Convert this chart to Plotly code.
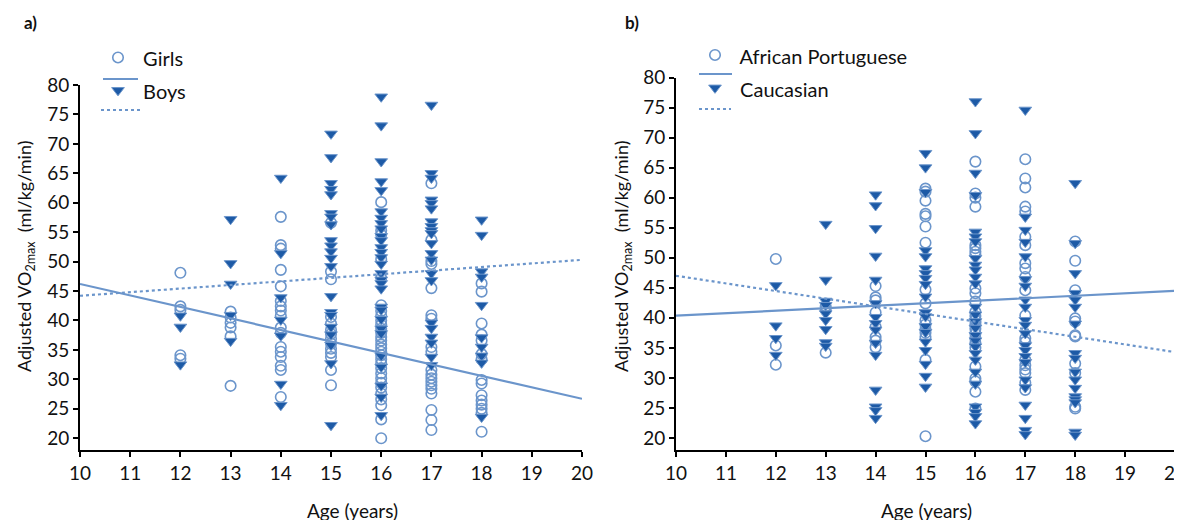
import plotly.graph_objects as go

# ---------------- data ----------------
ages = [12, 13, 14, 15, 16, 17, 18]

girls = {
    12: [48.1, 42.4, 41.8, 34.1, 33.5],
    13: [41.5, 40.5, 39.6, 38.8, 37.3, 28.9],
    14: [57.6, 52.8, 52.2, 48.6, 45.8, 43.3, 42.4, 41.7, 40.8, 38.8, 37.9, 35.5, 34.7, 33.8, 32.3, 31.6, 27.0],
    15: [56.6, 48.3, 47.0, 40.6, 39.5, 38.4, 37.7, 36.9, 36.1, 35.2, 34.5, 33.8, 31.6, 29.0],
    16: [60.1, 55.3, 54.6, 50.4, 47.2, 42.6, 41.6, 40.8, 40.0, 39.3, 38.6, 37.9, 37.2, 36.6, 35.9, 35.3,
         34.7, 34.1, 33.4, 32.7, 31.9, 31.0, 30.2, 29.4, 28.6, 27.6, 26.6, 25.6, 23.2, 20.0],
    17: [63.3, 53.7, 50.1, 49.6, 45.5, 40.9, 40.3, 35.5, 34.7, 31.6, 30.8, 30.2, 29.6, 29.0, 28.4, 27.6,
         24.8, 23.1, 21.4],
    18: [46.3, 44.9, 39.5, 37.6, 36.6, 34.3, 33.4, 29.9, 29.3, 27.3, 26.4, 25.7, 25.0, 24.3, 21.1],
}
boys = {
    12: [40.8, 38.9, 32.5],
    13: [57.2, 49.7, 46.2, 40.9, 36.5],
    14: [64.2, 51.4, 43.9, 40.1, 37.4, 29.2, 25.6],
    15: [71.7, 67.7, 63.3, 62.3, 61.4, 58.2, 57.6, 56.3, 53.6, 52.7, 51.7, 50.6, 49.2, 44.1, 41.4, 40.9,
         38.9, 37.6, 35.8, 32.7, 22.2],
    16: [78.0, 73.1, 67.0, 63.6, 62.1, 58.5, 57.4, 56.5, 55.6, 54.3, 53.6, 52.4, 51.6, 50.7, 49.6, 48.0,
         46.9, 46.3, 45.4, 42.3, 41.8, 40.2, 38.6, 37.8, 34.0, 32.1, 28.9, 27.0, 23.9],
    17: [76.6, 65.0, 64.2, 60.5, 59.9, 59.0, 56.8, 56.0, 55.3, 54.8, 53.1, 51.4, 50.3, 48.0, 46.8, 39.6,
         38.7, 37.2, 36.2, 33.8, 32.4],
    18: [57.1, 54.5, 48.3, 47.4, 42.6, 37.1, 35.5, 34.0, 32.8, 23.6],
}
african = {
    12: [49.8, 35.4, 32.2],
    13: [41.9, 41.3, 34.2],
    14: [45.3, 43.4, 42.9, 40.9, 38.5, 36.8, 36.2, 35.1],
    15: [61.5, 61.0, 59.5, 57.3, 56.9, 55.2, 52.5, 44.7, 42.4, 39.6, 38.9, 38.1, 37.5, 36.8, 33.0, 20.3],
    16: [66.0, 60.7, 60.0, 58.5, 52.1, 51.6, 51.0, 50.5, 44.9, 44.1, 42.7, 41.0, 40.3, 39.6, 38.9, 38.2,
         37.4, 36.6, 35.8, 35.0, 31.9, 29.9, 29.4, 27.7, 24.9],
    17: [66.4, 63.2, 61.7, 58.5, 57.7, 53.5, 52.1, 49.1, 48.2, 46.8, 44.6, 40.4, 36.6, 36.0, 33.0, 32.1,
         31.4, 30.8, 29.2, 28.0],
    18: [52.7, 49.5, 44.6, 39.9, 39.4, 37.1, 36.9, 32.4, 30.8, 25.2, 24.9],
}
caucasian = {
    12: [45.4, 38.7, 36.6, 33.8],
    13: [55.6, 46.3, 42.8, 42.1, 40.7, 39.6, 38.1, 35.9, 35.3],
    14: [60.5, 58.7, 54.9, 50.3, 46.3, 42.4, 40.1, 39.1, 38.0, 35.8, 33.8, 28.0, 25.2, 24.6, 23.3],
    15: [67.4, 65.0, 60.9, 51.2, 50.2, 48.2, 47.4, 46.6, 45.6, 43.5, 40.9, 40.2, 38.6, 37.6, 36.0, 34.6,
         32.3, 30.3, 28.5],
    16: [76.0, 70.7, 64.1, 60.4, 54.3, 53.5, 52.7, 49.9, 48.8, 48.0, 46.8, 45.7, 41.8, 40.5, 39.4, 38.3,
         37.1, 36.2, 35.2, 34.1, 33.0, 31.0, 29.0, 25.2, 24.3, 23.6, 22.4],
    17: [74.6, 56.8, 54.6, 52.6, 50.2, 46.4, 45.3, 43.0, 41.8, 39.6, 38.8, 37.4, 35.4, 34.6, 33.6, 32.6,
         29.7, 28.4, 25.5, 23.3, 21.3, 20.6],
    18: [62.4, 52.4, 47.4, 44.1, 43.0, 41.8, 39.0, 34.1, 33.3, 31.0, 29.7, 28.3, 26.9, 26.4, 25.9, 21.0, 20.5],
}

fit_x = [10, 20]
girls_fit = [46.2, 26.7]
boys_fit = [44.2, 50.3]
african_fit = [40.35, 44.5]
caucasian_fit = [47.0, 34.3]

y_ticks = list(range(20, 81, 5))
x_ticks = list(range(10, 21))

# ---------------- styling ----------------
W, H = 1182, 520
OFF = 8  # page body margin of the browser
FONT = "Lato"
LIGHT = "#6b95cb"
DARK = "#1d5aa6"
TXT = "#111111"


def flat(d):
    xs, ys = [], []
    for a in ages:
        for v in d.get(a, []):
            xs.append(a)
            ys.append(v)
    return xs, ys


def px_x(p):
    return (p - OFF) / W


def px_y(p):
    return 1 - (p - OFF) / H


fig = go.Figure()


def add_panel(circ, tri, circ_fit, tri_fit, circ_name, tri_name, xa, ya, leg):
    cx, cy = flat(circ)
    tx, ty = flat(tri)
    fig.add_trace(go.Scatter(
        x=cx, y=cy, mode="markers",
        name=f'<span style="font-size:20px">\u00a0{circ_name}</span>',
        marker=dict(symbol="circle-open", size=10.5, color=LIGHT, line=dict(width=1.6, color=LIGHT)),
        xaxis=xa, yaxis=ya, legend=leg))
    fig.add_trace(go.Scatter(
        x=tx, y=ty, mode="markers",
        name=f'<span style="font-size:20px">\u00a0{tri_name}</span>',
        marker=dict(symbol="triangle-down", size=11, color=DARK, line=dict(width=1, color=LIGHT)),
        xaxis=xa, yaxis=ya, legend=leg))
    fig.add_trace(go.Scatter(
        x=fit_x, y=circ_fit, mode="lines", showlegend=False,
        line=dict(color=LIGHT, width=2.2), xaxis=xa, yaxis=ya))
    fig.add_trace(go.Scatter(
        x=fit_x, y=tri_fit, mode="lines", showlegend=False,
        line=dict(color=LIGHT, width=2.2, dash="dot"), xaxis=xa, yaxis=ya))


add_panel(girls, boys, girls_fit, boys_fit, "Girls", "Boys", "x", "y", "legend")
add_panel(african, caucasian, african_fit, caucasian_fit, "African Portuguese", "Caucasian", "x2", "y2", "legend2")

axis_common = dict(
    showgrid=False, zeroline=False, showline=True, linecolor="black", linewidth=2,
    ticks="outside", ticklen=5, tickwidth=2, tickcolor="black",
    tickfont=dict(family=FONT, size=19, color=TXT), automargin=False,
)

legend_common = dict(xanchor="left", yanchor="top", bgcolor="rgba(0,0,0,0)",
                     font=dict(family=FONT, size=23, color=TXT), tracegroupgap=0, traceorder="normal")

fig.update_layout(
    width=W, height=H,
    margin=dict(l=0, r=0, t=0, b=0),
    paper_bgcolor="white", plot_bgcolor="white",
    font=dict(family=FONT, size=18, color=TXT),
    xaxis=dict(domain=[px_x(80), px_x(582)], range=[10, 20], tickvals=x_ticks, anchor="y", **axis_common),
    yaxis=dict(domain=[px_y(450), px_y(85)], range=[18, 80], tickvals=y_ticks, anchor="x", **axis_common),
    xaxis2=dict(domain=[px_x(676), px_x(1175)], range=[10, 20], tickvals=x_ticks, anchor="y2", **axis_common),
    yaxis2=dict(domain=[px_y(450), px_y(77.5)], range=[18, 80], tickvals=y_ticks, anchor="x2", **axis_common),
    legend=dict(x=px_x(98), y=px_y(36), **legend_common),
    legend2=dict(x=px_x(695), y=px_y(33.5), **legend_common),
    showlegend=True,
)

# line samples of the legend (drawn under each marker entry)
legend_lines = [
    (103, 138, 79, "solid"), (101, 140, 110, "dot"),
    (699, 732, 74, "solid"), (699, 731, 109, "dot"),
]
shapes = []
for x0, x1, yy, dash in legend_lines:
    shapes.append(dict(type="line", xref="paper", yref="paper",
                       x0=px_x(x0), x1=px_x(x1), y0=px_y(yy), y1=px_y(yy),
                       line=dict(color=LIGHT, width=2.2, dash=dash)))
fig.update_layout(shapes=shapes)

ytitle = "Adjusted VO<sub>2max</sub>\u00a0 (ml/kg/min)"
annots = [
    dict(text="<b>a)</b>", x=px_x(30), y=px_y(22), xanchor="center", yanchor="middle", font=dict(size=17)),
    dict(text="<b>b)</b>", x=px_x(632), y=px_y(22), xanchor="center", yanchor="middle", font=dict(size=17)),
    dict(text=ytitle, x=px_x(25), y=px_y(257), textangle=-90, xanchor="center", yanchor="middle", font=dict(size=18)),
    dict(text=ytitle, x=px_x(622), y=px_y(257), textangle=-90, xanchor="center", yanchor="middle", font=dict(size=18)),
    dict(text="Age (years)", x=px_x(352), y=px_y(510), xanchor="center", yanchor="middle", font=dict(size=19)),
    dict(text="Age (years)", x=px_x(926), y=px_y(510), xanchor="center", yanchor="middle", font=dict(size=19)),
]
for a in annots:
    a.update(xref="paper", yref="paper", showarrow=False)
    a["font"] = dict(family=FONT, color=TXT, **a["font"])
fig.update_layout(annotations=annots)

fig.write_html("out.html")
